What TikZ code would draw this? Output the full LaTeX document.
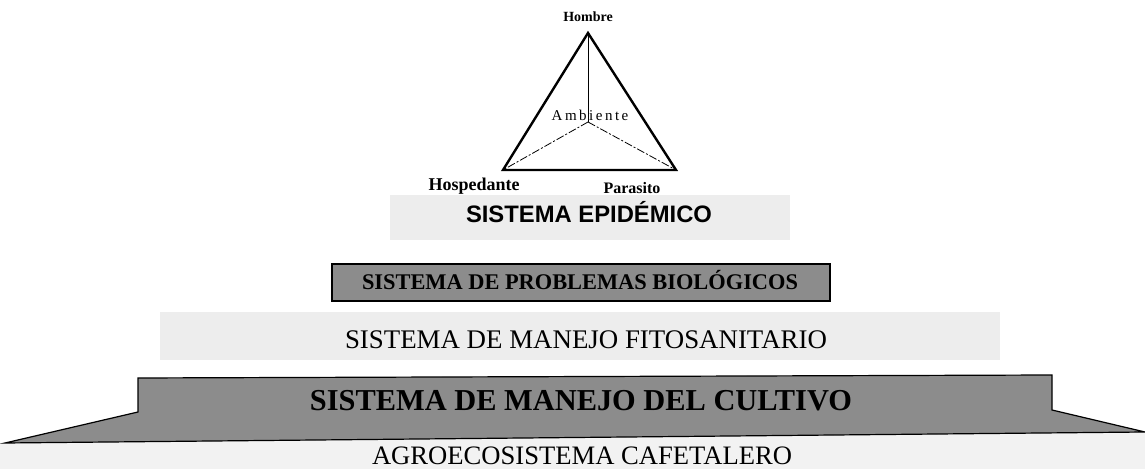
\documentclass[tikz,border=0pt]{standalone}
\usepackage{fontspec}
\setmainfont{Liberation Serif}
\newfontfamily\sansf{Liberation Sans}
\usetikzlibrary{calc}
\begin{document}
\begin{tikzpicture}[x=0.5pt,y=-0.5pt,
  lightstip/.style={fill=black!7},
  darkbox/.style={fill=black!45,draw=black,line width=0.6pt},
  tri/.style={line width=1.2pt,line join=miter},
  inner/.style={line width=0.4pt,dash pattern=on 4pt off 1pt on 1pt off 1pt},
  vlabel/.style={font=\bfseries\fontsize{7}{8}\selectfont,inner sep=0pt},
  level/.style={inner sep=0pt,anchor=base}]
\useasboundingbox (0,0) rectangle (1145,469);
% light stippled zones
\fill[lightstip] (390,195) rectangle (790,240);
\fill[lightstip] (160,312) rectangle (1000,360);
\fill[black!5] (0,443) -- (1145,432) -- (1145,469) -- (0,469) -- cycle;
% base layer
\path[darkbox] (5,443) -- (138,412) -- (138,378) -- (1052,375) -- (1052,410) -- (1145,432) -- cycle;
% problemas box
\path[darkbox] (332,264) rectangle (830,301);
% triangle
\coordinate (top) at (588,33);
\coordinate (bl) at (503,170);
\coordinate (br) at (676,170);
\coordinate (cen) at (588,122);
\draw[tri] (top) -- (bl) -- (br) -- cycle;
\draw[line width=0.5pt] (top) -- (cen);
\draw[inner] (cen) -- (bl);
\draw[inner] (cen) -- (br);
\node[vlabel] (hombre) at (588,17) {Hombre};
\node[inner sep=0pt,font=\fontsize{7.5}{8}\selectfont] (amb) at (590,115) {A\,m\,b\,i\,e\,n\,t\,e};
\node[vlabel,font=\bfseries\fontsize{9}{10}\selectfont] (hosp) at (474,186) {Hospedante};
\node[vlabel,font=\bfseries\fontsize{8}{9}\selectfont] (para) at (632,188) {Parasito};
% level labels
\node[level] (epi) at (589,223) {\resizebox{123pt}{!}{\sansf\bfseries SISTEMA EPIDÉMICO}};
\node[level] (bio) at (580,290) {\resizebox{218pt}{!}{\bfseries SISTEMA DE PROBLEMAS BIOLÓGICOS}};
\node[level] (fito) at (586,349) {\resizebox{241pt}{!}{SISTEMA DE MANEJO FITOSANITARIO}};
\node[level] (cult) at (581,411) {\resizebox{271pt}{!}{\bfseries SISTEMA DE MANEJO DEL CULTIVO}};
\node[level] (agro) at (582,465) {\resizebox{210pt}{!}{AGROECOSISTEMA CAFETALERO}};
\end{tikzpicture}
\end{document}
